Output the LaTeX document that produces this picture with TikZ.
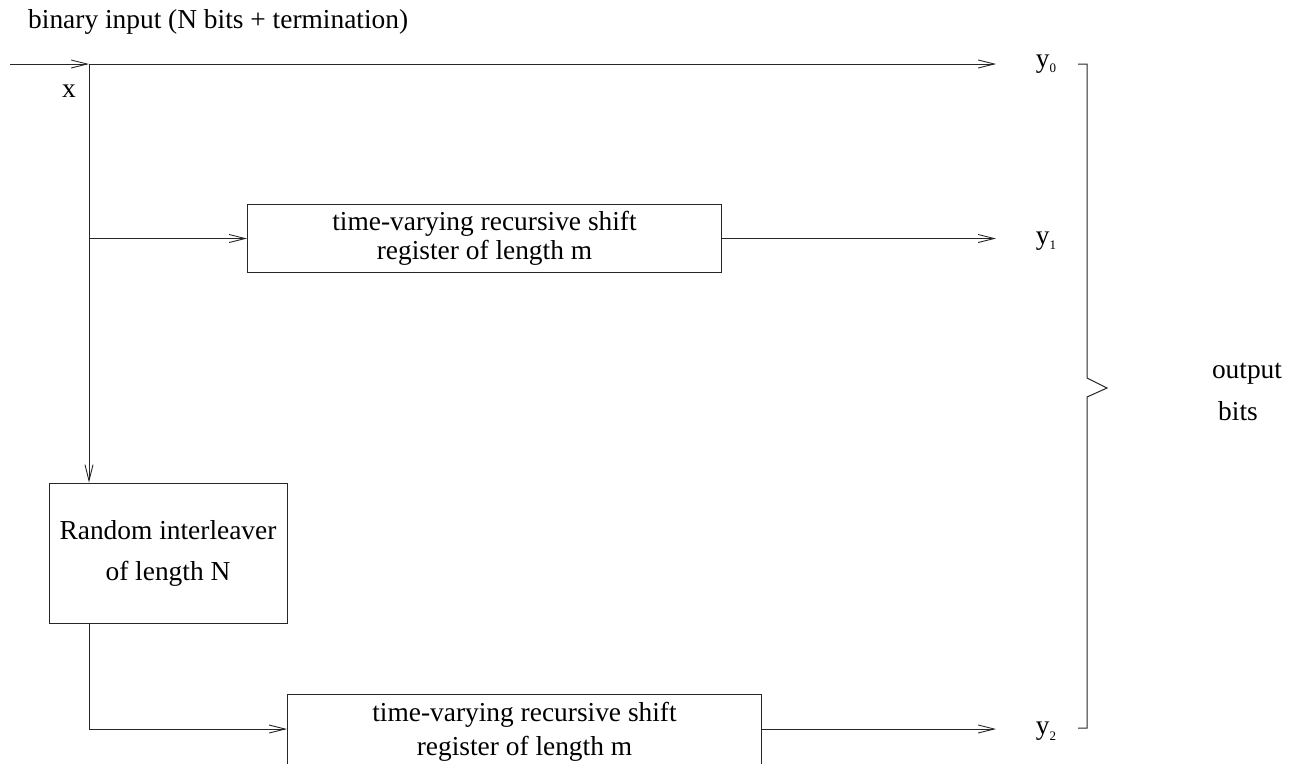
\documentclass[tikz,border=0pt]{standalone}
\usepackage{fontspec}
\setmainfont{Liberation Serif}
\usetikzlibrary{arrows.meta}
\tikzset{
  wire/.style={line width=1pt, draw=black!85},
  arr/.style={wire, -{Straight Barb[length=16pt,width=8pt,line width=0.9pt]}},
  blockbox/.style={draw=black!85, line width=1pt, rectangle, inner sep=0pt, align=center},
  lbl/.style={inner sep=0pt}
}
\newcommand{\ysub}[1]{y\raisebox{-0.45ex}{\fontsize{13}{13}\selectfont #1}}
\begin{document}
\begin{tikzpicture}[x=1pt,y=-1pt,font=\fontsize{27.4}{31}\selectfont]
\useasboundingbox (0,0) rectangle (1300,763);
% title
\node[lbl, anchor=west] (title) at (28,22) {binary input (N bits + termination)};
% input
\coordinate (in) at (10,64);
\coordinate (J) at (89,64);
\node[lbl] (xl) at (69,91) {x};
% blocks
\node[blockbox, minimum width=474pt, minimum height=68pt,
      font=\fontsize{27.4}{29}\selectfont] (box1) at (484.5,238.5)
  {time-varying recursive shift\\ register of length m};
\node[blockbox, minimum width=238pt, minimum height=140pt] (inter) at (168,553)
  {Random interleaver\\[10pt] of length N};
\node[blockbox, minimum width=474pt, minimum height=72pt, anchor=north west] (box2) at (287,694) {};
\node[lbl, align=center, font=\fontsize{27.4}{34}\selectfont] (box2t) at (524.5,732)
  {time-varying recursive shift\\ register of length m};
% output ends
\coordinate (o0) at (996,64);
\coordinate (o1) at (996,238.5);
\coordinate (o2) at (996,729);
\coordinate (b1) at (89,238.5);
\coordinate (c2) at (89,729);
\node[lbl] (y0) at (1046,64) {\ysub{0}};
\node[lbl] (y1) at (1046,241) {\ysub{1}};
\node[lbl] (y2) at (1046,731) {\ysub{2}};
% connectors
\draw[arr] (in) -- (J);
\draw[arr] (J) -- (o0);
\draw[arr] (J) -- (J |- inter.north);
\draw[arr] (b1) -- (box1.west);
\draw[arr] (box1.east) -- (o1);
\draw[wire] (J |- inter.south) -- (c2);
\draw[arr] (c2) -- (c2 -| box2.west);
\draw[arr] (c2 -| box2.east) -- (o2);
% brace
\draw[wire] (1078,64) -- (1087,64) -- (1087,378) -- (1107,388) -- (1087,397) -- (1087,728) -- (1078,728);
\node[lbl] (outl) at (1247,374) {output};
\node[lbl] (bitsl) at (1238,411) {bits};
\end{tikzpicture}
\end{document}
